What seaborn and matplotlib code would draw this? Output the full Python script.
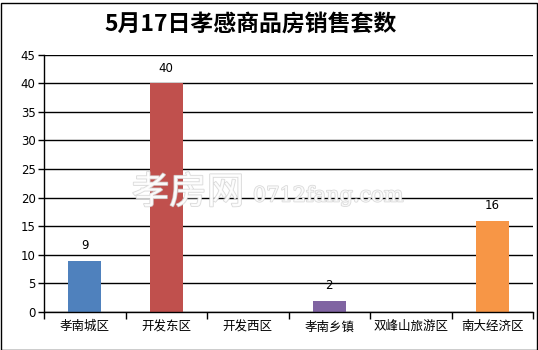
import matplotlib
matplotlib.use("Agg")
import matplotlib.pyplot as plt
import matplotlib.patheffects as pe
from matplotlib.patches import Rectangle
import seaborn as sns
import pandas as pd

categories = ["孝南城区", "开发东区", "开发西区", "孝南乡镇", "双峰山旅游区", "南大经济区"]
values = [9, 40, 0, 2, 0, 16]
colors = ["#4F81BD", "#C0504D", "#4F81BD", "#8064A2", "#4F81BD", "#F79646"]
title = "5月17日孝感商品房销售套数"
yticks = [0, 5, 10, 15, 20, 25, 30, 35, 40, 45]

sns.set_theme(style="white")
plt.rcParams['font.family'] = ['Noto Sans CJK SC', 'DejaVu Sans']

df = pd.DataFrame({"cat": categories, "val": values})

fig = plt.figure(figsize=(5.38, 3.5), dpi=100)
ax = fig.add_axes([44/538, 38/350, 489/538, 257.3/350])

sns.barplot(data=df, x="cat", y="val", hue="cat", palette=colors, width=0.4,
            legend=False, ax=ax, saturation=1, linewidth=0, edgecolor='none')

ax.set_ylim(0, 45)
ax.set_xlim(-0.5, len(categories) - 0.5)
ax.set_yticks(yticks)
ax.set_yticklabels([str(v) for v in yticks], fontsize=8.5, family='DejaVu Sans')
ax.set_xlabel("")
ax.set_ylabel("")
ax.tick_params(axis='x', which='major', length=0, labelsize=9, pad=6)
ax.set_xticks([i - 0.5 for i in range(len(categories) + 1)], minor=True)
ax.tick_params(axis='x', which='minor', length=5, width=1, color='black', direction='out', bottom=True)
ax.tick_params(axis='y', which='major', length=4, width=1, color='black', direction='out', left=True, pad=2)
for lab in ax.get_xticklabels():
    lab.set_color('black')
for lab in ax.get_yticklabels():
    lab.set_color('black')

ax.grid(axis='y', color='black', linewidth=1)
ax.set_axisbelow(True)
for s in ['top', 'right']:
    ax.spines[s].set_visible(False)
ax.spines['left'].set_color('black')
ax.spines['bottom'].set_color('black')
ax.spines['left'].set_linewidth(1)
ax.spines['bottom'].set_linewidth(1)

for i, v in enumerate(values):
    if v > 0:
        ax.annotate(str(v), (i, v), xytext=(0, 6), textcoords='offset points',
                    ha='center', va='bottom', fontsize=8.5, family='DejaVu Sans', color='black')

# watermark
wm_fx = [pe.withStroke(linewidth=1.2, foreground='#d4d4d4')]
fig.text(188/538, 1 - 193/350, "孝房网", fontsize=27, fontweight='normal', color='white',
         ha='center', va='center', path_effects=wm_fx, alpha=0.85)
fig.text(253/538, 1 - 196/350, "0712fang.com", fontsize=15, family='DejaVu Serif', color='white',
         ha='left', va='center', path_effects=wm_fx, alpha=0.85)

fig.text(251/538, 1 - 24/350, title, fontsize=16.5, fontweight='bold', ha='center', va='center', color='black')

fig.patches.append(Rectangle((0.5/538, 0.5/350), 536/538, 347/350, transform=fig.transFigure,
                             fill=False, edgecolor='black', linewidth=1))

fig.savefig("out.png", dpi=100)
